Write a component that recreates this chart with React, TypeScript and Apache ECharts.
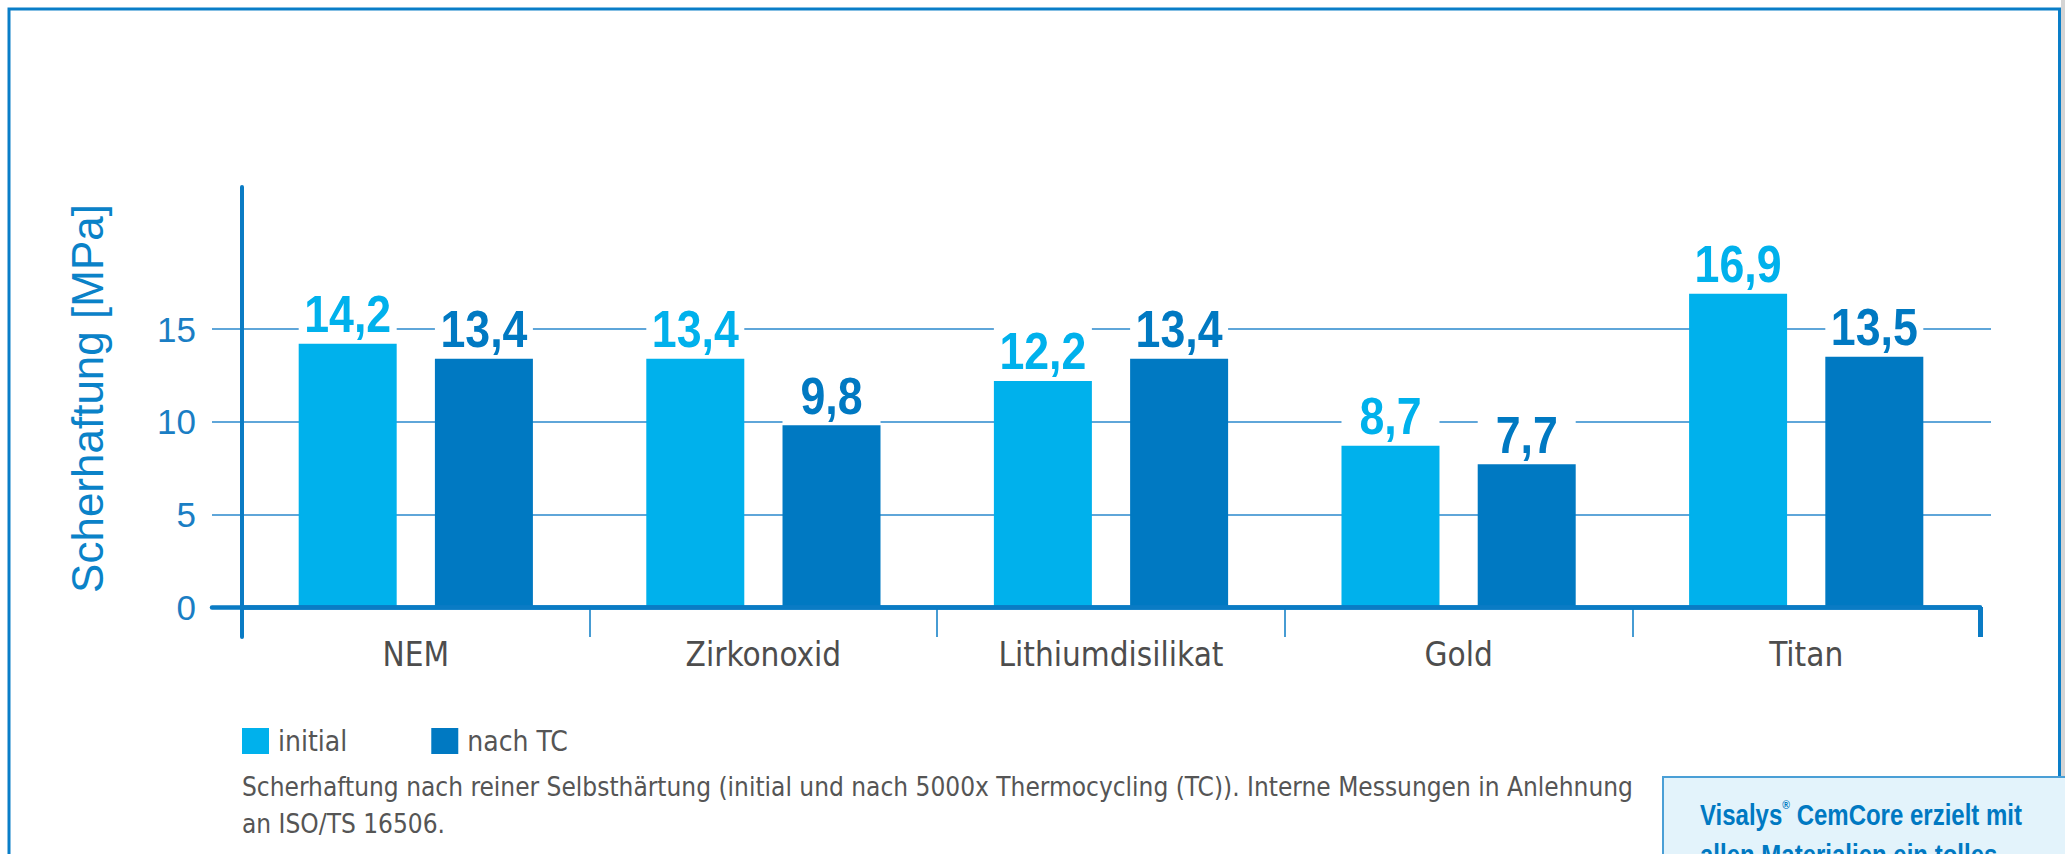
import React, { useEffect, useRef } from "react";
import * as echarts from "echarts";

const categories = ["NEM", "Zirkonoxid", "Lithiumdisilikat", "Gold", "Titan"];
const initialValues = [14.2, 13.4, 12.2, 8.7, 16.9];
const nachTCValues = [13.4, 9.8, 13.4, 7.7, 13.5];
const yTickValues = [0, 5, 10, 15];
const gridLineValues = [5, 10, 15];
const seriesNames = ["initial", "nach TC"];
const yAxisTitle = "Scherhaftung [MPa]";
const captionLines = [
  "Scherhaftung nach reiner Selbsthärtung (initial und nach 5000x Thermocycling (TC)). Interne Messungen in Anlehnung",
  "an ISO/TS 16506.",
];
const calloutLines = ["{b|Visalys}{s|®}{b| CemCore erzielt mit}", "{b|allen Materialien ein tolles}"];

const C_LIGHT = "#00b1ec";
const C_DARK = "#0079c2";
const C_AXIS = "#0a7bc4";
const C_GRID = "#2a88cc";
const SANS = "'Liberation Sans', Arial, sans-serif";
const COND = "'DejaVu Sans Condensed', 'Liberation Sans', sans-serif";
const BAR_WIDTH = 98;
const BAR_GAP = "39%";

// y range so that 0 sits at y=607 and top at 187, bottom at 637
const PX_PER_UNIT = 278 / 15;
const Y_MAX = 420 / PX_PER_UNIT;
const Y_MIN = -30 / PX_PER_UNIT;

const fmt = (v: number) => v.toFixed(1).replace(".", ",");

export default function App() {
  const ref = useRef<HTMLDivElement>(null);
  useEffect(() => {
    if (!ref.current) return;
    const chart = echarts.init(ref.current, undefined, { renderer: "svg" });
    const gridTop = 187;
    const gridBottom = 854 - 637;

    const labelSeries = (values: number[], idx: number, color: string) => ({
      type: "custom",
      xAxisIndex: 1,
      yAxisIndex: 1,
      z: 4,
      silent: true,
      data: values.map((v, i) => [i, v]),
      encode: { x: 0, y: 1 },
      renderItem: (params: any, api: any) => {
        const cat = api.value(0);
        const v = api.value(1);
        const pt = api.coord([cat, v]);
        const lay = api.barLayout({ barWidth: BAR_WIDTH, barGap: BAR_GAP, count: 2 });
        const cx = pt[0] + lay[idx].offsetCenter;
        const w = lay[idx].width;
        return {
          type: "group",
          children: [
            {
              type: "rect",
              shape: { x: cx - w / 2, y: pt[1] - 58, width: w, height: 57 },
              style: { fill: "#ffffff" },
            },
            {
              type: "text",
              x: cx,
              y: pt[1] - 30,
              scaleX: 0.86,
              style: {
                text: fmt(v),
                fill: color,
                fontFamily: SANS,
                fontWeight: "bold",
                fontSize: 52,
                align: "center",
                verticalAlign: "middle",
              },
            },
          ],
        };
      },
    });

    chart.setOption({
      animation: false,
      backgroundColor: "#ffffff",
      grid: [
        { left: 212, right: 74, top: gridTop, bottom: gridBottom },
        { left: 242, right: 85, top: gridTop, bottom: gridBottom },
        { left: 212, right: 85, top: gridTop, bottom: gridBottom },
      ],
      xAxis: [
        { gridIndex: 0, type: "value", min: 0, max: 1, show: false },
        {
          gridIndex: 1,
          type: "category",
          data: categories,
          boundaryGap: true,
          z: 5,
          axisLine: { show: true, onZero: true, lineStyle: { color: C_AXIS, width: 4.5 } },
          axisTick: { show: true, length: 30, lineStyle: { color: C_AXIS, width: 1.5 } },
          axisLabel: { fontFamily: COND, fontSize: 33, color: "#4d4d4d", margin: 1 },
        },
        {
          gridIndex: 2,
          type: "value",
          min: 0,
          max: 1,
          z: 6,
          splitLine: { show: false },
          axisLine: { show: true, onZero: true, lineStyle: { color: C_AXIS, width: 4.5 } },
          axisTick: { show: true, customValues: [1], length: 30, lineStyle: { color: C_AXIS, width: 5 } },
          axisLabel: { show: false },
        },
      ],
      yAxis: [
        {
          gridIndex: 0,
          type: "value",
          min: Y_MIN,
          max: Y_MAX,
          axisLine: { show: false },
          axisLabel: { show: false },
          axisTick: { show: false, customValues: gridLineValues },
          splitLine: { show: true, lineStyle: { color: C_GRID, width: 1.5 } },
        },
        {
          gridIndex: 1,
          type: "value",
          min: Y_MIN,
          max: Y_MAX,
          z: 5,
          name: yAxisTitle,
          nameLocation: "middle",
          nameRotate: 90,
          nameGap: 133,
          nameTextStyle: {
            fontFamily: SANS,
            fontSize: 44,
            color: "#0a82c8",
            padding: [0, 0, 0, 27],
          },
          axisLine: { show: true, onZero: false, lineStyle: { color: C_AXIS, width: 4 } },
          axisTick: { show: false, customValues: yTickValues },
          axisLabel: { customValues: yTickValues, margin: 46, fontFamily: SANS, fontSize: 35, color: "#1a7ec4" },
          splitLine: { show: false },
        },
        {
          gridIndex: 2,
          type: "value",
          min: Y_MIN,
          max: Y_MAX,
          show: false,
          splitLine: { show: false },
        },
      ],
      legend: {
        left: 237,
        top: 722,
        itemWidth: 27,
        itemHeight: 26,
        itemGap: 84,
        icon: "rect",
        data: seriesNames,
        textStyle: { fontFamily: COND, fontSize: 28, color: "#555555", padding: [0, 0, 0, 4] },
      },
      series: [
        {
          name: seriesNames[0],
          type: "bar",
          xAxisIndex: 1,
          yAxisIndex: 1,
          barWidth: BAR_WIDTH,
          barGap: BAR_GAP,
          itemStyle: { color: C_LIGHT },
          data: initialValues,
        },
        {
          name: seriesNames[1],
          type: "bar",
          xAxisIndex: 1,
          yAxisIndex: 1,
          barWidth: BAR_WIDTH,
          barGap: BAR_GAP,
          itemStyle: { color: C_DARK },
          data: nachTCValues,
        },
        labelSeries(initialValues, 0, C_LIGHT),
        labelSeries(nachTCValues, 1, C_DARK),
      ],
      graphic: [
        {
          type: "rect",
          z: 1,
          shape: { x: 9, y: 9, width: 2050.5, height: 1000 },
          style: { fill: "none", stroke: "#0a7ec8", lineWidth: 3 },
        },
        {
          type: "rect",
          z: 1,
          shape: { x: 2061, y: 0, width: 4, height: 854 },
          style: { fill: "#d4d4d4" },
        },
        ...captionLines.map((t, i) => ({
          type: "text",
          z: 1,
          x: 242,
          y: 787 + i * 37,
          style: { text: t, fontFamily: COND, fontSize: 26, fill: "#555555", verticalAlign: "middle", align: "left" },
        })),
        {
          type: "rect",
          z: 3,
          shape: { x: 1663, y: 777, width: 500, height: 200 },
          style: { fill: "#e3f3fb", stroke: "#4a9fd6", lineWidth: 2 },
        },
        ...calloutLines.map((t, i) => ({
          type: "text",
          z: 4,
          x: 1700,
          y: 815 + i * 40,
          scaleX: 0.8,
          style: {
            text: t,
            verticalAlign: "middle",
            align: "left",
            rich: {
              b: { fontFamily: SANS, fontWeight: "bold", fontSize: 30, fill: C_DARK, lineHeight: 34 },
              s: { fontFamily: SANS, fontWeight: "bold", fontSize: 13, fill: C_DARK, lineHeight: 34, verticalAlign: "top" },
            },
          },
        })),
      ],
    });
    return () => chart.dispose();
  }, []);
  return (
    <div
      ref={ref}
      style={{ position: "absolute", left: 0, top: 0, width: 2065, height: 854, background: "#fff" }}
    />
  );
}
